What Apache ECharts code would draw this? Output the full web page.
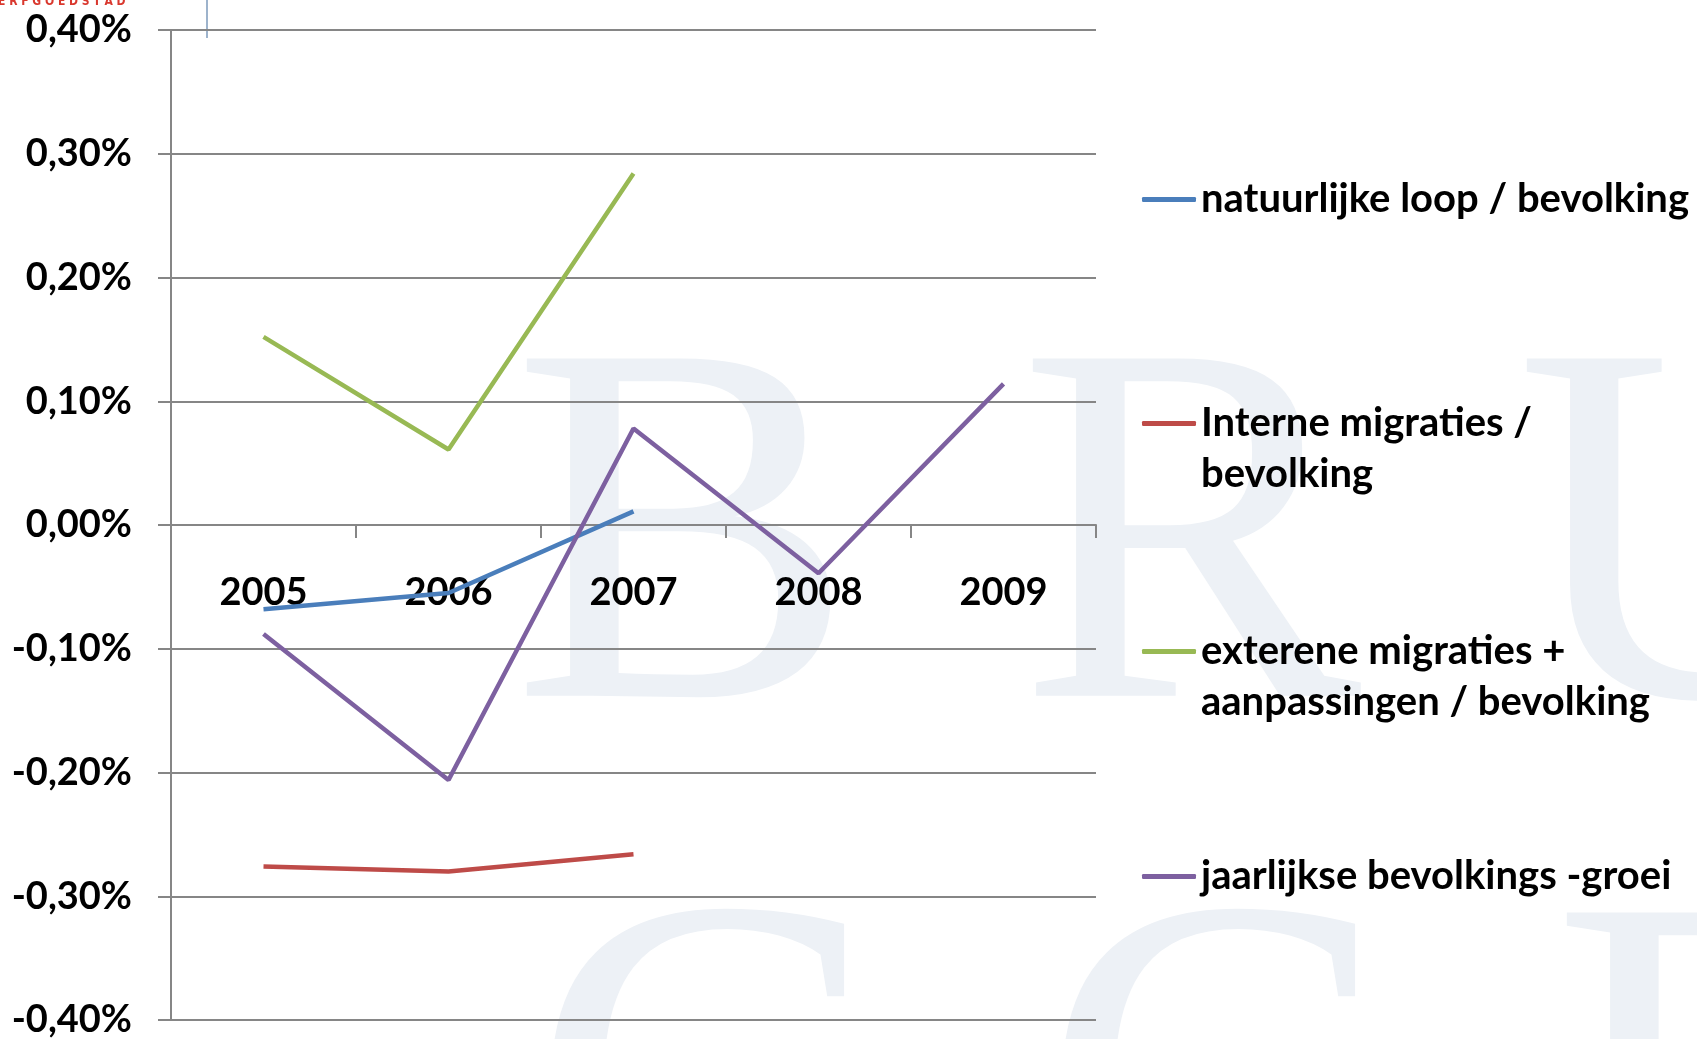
<!DOCTYPE html>
<html>
<head>
<meta charset="utf-8">
<script src="https://cdn.jsdelivr.net/npm/echarts@6/dist/echarts.min.js"></script>
<style>
html, body { margin: 0; padding: 0; background: #fff; }
#chart { width: 1697px; height: 1039px; }
</style>
</head>
<body>
<div id="chart"></div>
<script>
// jaren op de x-as
const years = ['2005', '2006', '2007', '2008', '2009'];

// waarden in procent
const natuurlijkeLoop = [-0.068, -0.055, 0.011, null, null];
const interneMigraties = [-0.276, -0.280, -0.266, null, null];
const externeMigraties = [0.152, 0.061, 0.284, null, null];
const jaarlijkseGroei = [-0.088, -0.206, 0.078, -0.039, 0.114];

const names = [
  'natuurlijke loop / bevolking',
  'Interne migraties / bevolking',
  'exterene migraties + aanpassingen / bevolking',
  'jaarlijkse bevolkings -groei'
];
// zoals de legende ze afbreekt (lege eerste regel zodat het lijntje bij de eerste regel staat)
const legendLabels = [
  'natuurlijke loop / bevolking',
  ' \nInterne migraties /\nbevolking',
  ' \nexterene migraties +\naanpassingen / bevolking',
  'jaarlijkse bevolkings -groei'
];
const colors = ['#4A7EBB', '#BE4B48', '#98B954', '#7D60A0'];

const font = 'Lato';
const gridColor = '#868686';

const myEchart = echarts.init(document.getElementById('chart'));

function makeLegend(i, top) {
  return {
    data: [names[i]],
    left: 1142,
    top: top,
    orient: 'vertical',
    padding: 0,
    icon: 'roundRect',
    itemWidth: 54,
    itemHeight: 5,
    selectedMode: false,
    formatter: function () { return legendLabels[i]; },
    textStyle: {
      color: '#000',
      fontFamily: font,
      fontWeight: 'bold',
      fontSize: 40,
      lineHeight: 51
    }
  };
}

// watermerk op de achtergrond
function bigLetter(ch, x, y) {
  return {
    type: 'text',
    z: -100,
    silent: true,
    style: {
      text: ch,
      x: x,
      y: y,
      fill: '#EDF1F6',
      font: '515px "Liberation Serif", "DejaVu Serif", serif'
    }
  };
}

const option = {
  backgroundColor: '#fff',
  animation: false,
  color: colors,
  grid: {
    left: 171,
    right: 601,
    top: 30,
    bottom: 19,
    outerBoundsMode: 'none'
  },
  graphic: [
    bigLetter('B', 512, 303),
    bigLetter('R', 1018, 303),
    bigLetter('U', 1516, 303),
    bigLetter('G', 530, 857),
    bigLetter('G', 1041, 857),
    bigLetter('E', 1552, 857),
    {
      type: 'line',
      silent: true,
      shape: { x1: 207, y1: 0, x2: 207, y2: 38 },
      style: { stroke: '#9DB3CC', lineWidth: 2 }
    },
    {
      type: 'text',
      silent: true,
      style: {
        text: 'E R F G O E D S T A D',
        x: -2,
        y: -4,
        fill: '#D9382E',
        font: 'bold 12px "DejaVu Sans Condensed", "DejaVu Sans", sans-serif'
      }
    }
  ],
  legend: [
    makeLegend(0, 174),
    makeLegend(1, 347),
    makeLegend(2, 575),
    makeLegend(3, 851)
  ],
  xAxis: {
    type: 'category',
    data: years,
    boundaryGap: true,
    offset: -495,
    axisLine: {
      onZero: false,
      lineStyle: { color: gridColor, width: 2 }
    },
    axisTick: {
      show: true,
      length: 13,
      lineStyle: { color: gridColor, width: 2 }
    },
    axisLabel: {
      margin: 49,
      color: '#000',
      fontFamily: font,
      fontWeight: 'bold',
      fontSize: 38
    },
    splitLine: { show: false }
  },
  yAxis: {
    type: 'value',
    min: -0.4,
    max: 0.4,
    interval: 0.1,
    axisLine: {
      show: true,
      lineStyle: { color: gridColor, width: 2 }
    },
    axisTick: {
      show: true,
      length: 13,
      lineStyle: { color: gridColor, width: 2 }
    },
    axisLabel: {
      margin: 39,
      color: '#000',
      fontFamily: font,
      fontWeight: 'bold',
      fontSize: 38,
      formatter: function (value) {
        return value.toFixed(2).replace('.', ',') + '%';
      }
    },
    splitLine: {
      lineStyle: { color: gridColor, width: 2 }
    }
  },
  series: [
    { name: names[0], type: 'line', data: natuurlijkeLoop },
    { name: names[1], type: 'line', data: interneMigraties },
    { name: names[2], type: 'line', data: externeMigraties },
    { name: names[3], type: 'line', data: jaarlijkseGroei }
  ].map(function (s, i) {
    s.showSymbol = false;
    s.symbol = 'none';
    s.lineStyle = { width: 4.5, color: colors[i] };
    s.itemStyle = { color: colors[i] };
    s.connectNulls = false;
    return s;
  })
};

myEchart.setOption(option);
</script>
</body>
</html>
